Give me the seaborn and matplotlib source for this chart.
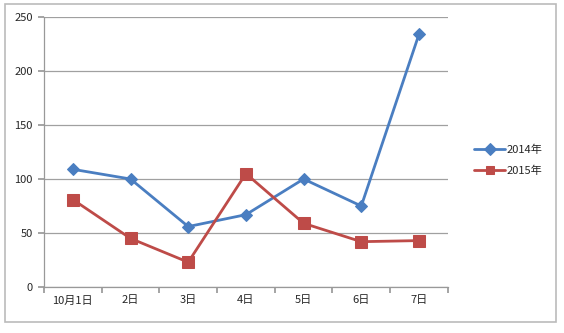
import matplotlib
matplotlib.use("Agg")
import matplotlib.pyplot as plt
import seaborn as sns
import numpy as np
import pandas as pd
from matplotlib.patches import Rectangle

categories = ["10月1日", "2日", "3日", "4日", "5日", "6日", "7日"]
series_names = ["2014年", "2015年"]
values_2014 = [109, 100, 56, 67, 100, 75, 234]
values_2015 = [81, 45, 23, 105, 59, 42, 43]
y_ticks = [0, 50, 100, 150, 200, 250]

sns.set_theme(style="white")
plt.rcParams['font.family'] = ['Noto Sans CJK SC', 'DejaVu Sans']

df = pd.DataFrame({
    "idx": list(range(len(categories))) * 2,
    "value": values_2014 + values_2015,
    "year": [series_names[0]] * len(categories) + [series_names[1]] * len(categories),
})

fig = plt.figure(figsize=(5.64, 3.33), dpi=100)
ax = fig.add_axes([0.078, 0.138, 0.716, 0.811])

colors = ["#4A7EC1", "#BE4B48"]
palette = dict(zip(series_names, colors))
sns.lineplot(data=df, x="idx", y="value", hue="year", style="year",
             markers={series_names[0]: "D", series_names[1]: "s"},
             dashes=False, palette=palette, linewidth=2,
             ax=ax, legend=True)
for line, ms, c in zip(ax.lines, [6, 8], colors):
    line.set_markersize(ms)
    line.set_markeredgecolor(c)
    line.set_markerfacecolor(c)

ax.set_xlim(-0.5, len(categories) - 0.5)
ax.set_ylim(0, 250)
ax.set_yticks(y_ticks)
ax.set_yticklabels([str(v) for v in y_ticks], fontsize=8)
ax.set_xticks(np.arange(-0.5, len(categories), 1))
ax.set_xticklabels([])
ax.set_xticks(np.arange(len(categories)), minor=True)
ax.set_xticklabels(categories, minor=True, fontsize=8)
ax.tick_params(axis='x', which='major', length=4, color='#999999', direction='out', bottom=True)
ax.tick_params(axis='x', which='minor', length=0, pad=6)
ax.tick_params(axis='y', length=4, color='#999999', direction='out', left=True, pad=4)
ax.set_xlabel("")
ax.set_ylabel("")
ax.yaxis.grid(True, color='#A0A0A0', linewidth=0.9)
ax.set_axisbelow(True)
for s in ['top', 'right']:
    ax.spines[s].set_visible(False)
for s in ['left', 'bottom']:
    ax.spines[s].set_color('#999999')
    ax.spines[s].set_linewidth(0.9)

handles, labels = ax.get_legend_handles_labels()
for h, c in zip(handles, colors):
    h.set_markeredgecolor(c)
    h.set_markerfacecolor(c)
    h.set_markersize(6)
leg = ax.legend(handles, labels, loc='center left', bbox_to_anchor=(1.04, 0.47),
                frameon=False, fontsize=8, handlelength=2.8, handletextpad=0.1,
                labelspacing=1.0)

fig.patches.append(Rectangle((0.008, 0.033), 0.977, 0.955, transform=fig.transFigure,
                             fill=False, edgecolor='#BBBBBB', linewidth=1.2))

fig.savefig("out.png", dpi=100)
